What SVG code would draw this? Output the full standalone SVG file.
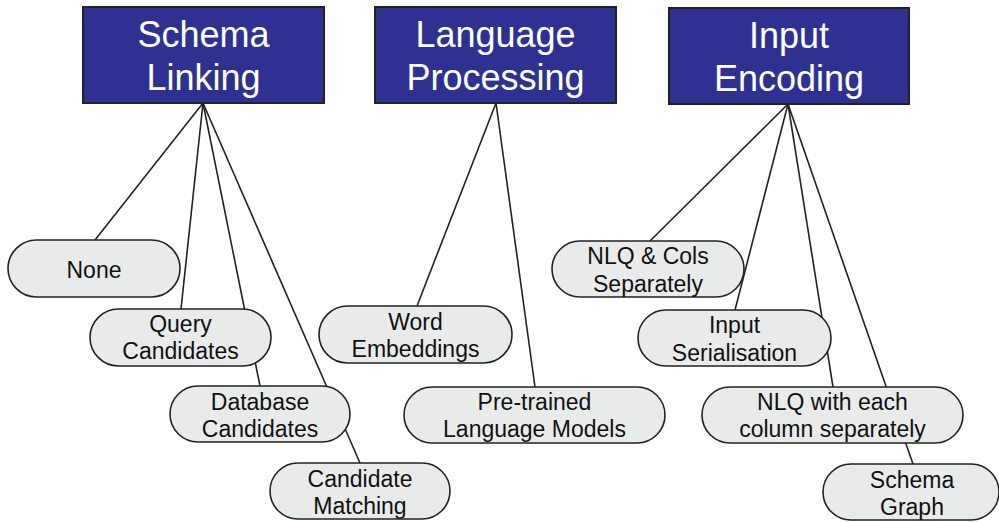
<svg xmlns="http://www.w3.org/2000/svg" width="999" height="522" viewBox="0 0 999 522">
<style>
.hdr rect{fill:#2e3192;stroke:#222;stroke-width:2}
.hdr text{fill:#fff;font-family:"Liberation Sans",Arial,sans-serif;font-size:36px;text-anchor:middle}
.pill rect{fill:#e9ebeb;stroke:#222;stroke-width:1.6}
.pill text{fill:#111;font-family:"Liberation Sans",Arial,sans-serif;font-size:23px;text-anchor:middle}
#connectors line{stroke:#222;stroke-width:1.6}
</style>
<rect width="999" height="522" fill="#fff"/>
<g id="connectors">
<line x1="203" y1="103" x2="95" y2="240"/>
<line x1="203" y1="103" x2="181" y2="309"/>
<line x1="203" y1="103" x2="260" y2="386"/>
<line x1="203" y1="103" x2="360" y2="463"/>
<line x1="496" y1="103" x2="417" y2="306"/>
<line x1="496" y1="103" x2="535" y2="387"/>
<line x1="788" y1="104" x2="650" y2="241"/>
<line x1="788" y1="104" x2="735" y2="310"/>
<line x1="788" y1="104" x2="833" y2="387"/>
<line x1="788" y1="104" x2="913" y2="464"/>
</g>
<g id="schema-linking" class="hdr"><rect x="83" y="7" width="241" height="96"/><text x="203.5" y="47">Schema</text><text x="203.5" y="90">Linking</text></g>
<g id="language-processing" class="hdr"><rect x="375" y="7" width="241" height="96"/><text x="495.5" y="47">Language</text><text x="495.5" y="90">Processing</text></g>
<g id="input-encoding" class="hdr"><rect x="669" y="8" width="240" height="96"/><text x="789" y="48">Input</text><text x="789" y="91">Encoding</text></g>
<g id="none" class="pill"><rect x="8" y="240" width="172" height="57" rx="28.5"/><text x="94" y="278">None</text></g>
<g id="query-candidates" class="pill"><rect x="90" y="309" width="181" height="57" rx="28.5"/><text x="180.5" y="332">Query</text><text x="180.5" y="359">Candidates</text></g>
<g id="database-candidates" class="pill"><rect x="170" y="386" width="180" height="56" rx="28"/><text x="260" y="410">Database</text><text x="260" y="437">Candidates</text></g>
<g id="candidate-matching" class="pill"><rect x="270" y="463" width="180" height="56" rx="28"/><text x="360" y="487">Candidate</text><text x="360" y="514">Matching</text></g>
<g id="word-embeddings" class="pill"><rect x="319" y="306" width="193" height="57" rx="28.5"/><text x="415.5" y="330">Word</text><text x="415.5" y="357">Embeddings</text></g>
<g id="pretrained-lm" class="pill"><rect x="404" y="387" width="261" height="56" rx="28"/><text x="534.5" y="410">Pre-trained</text><text x="534.5" y="437">Language Models</text></g>
<g id="nlq-cols" class="pill"><rect x="552" y="241" width="192" height="56" rx="28"/><text x="648" y="264">NLQ &amp; Cols</text><text x="648" y="292">Separately</text></g>
<g id="input-serialisation" class="pill"><rect x="638" y="310" width="193" height="56" rx="28"/><text x="734.5" y="333">Input</text><text x="734.5" y="361">Serialisation</text></g>
<g id="nlq-each-column" class="pill"><rect x="702" y="387" width="261" height="56" rx="28"/><text x="832.5" y="410">NLQ with each</text><text x="832.5" y="437">column separately</text></g>
<g id="schema-graph" class="pill"><rect x="823" y="464" width="176" height="56" rx="28"/><text x="912" y="488">Schema</text><text x="912" y="515">Graph</text></g>
</svg>
